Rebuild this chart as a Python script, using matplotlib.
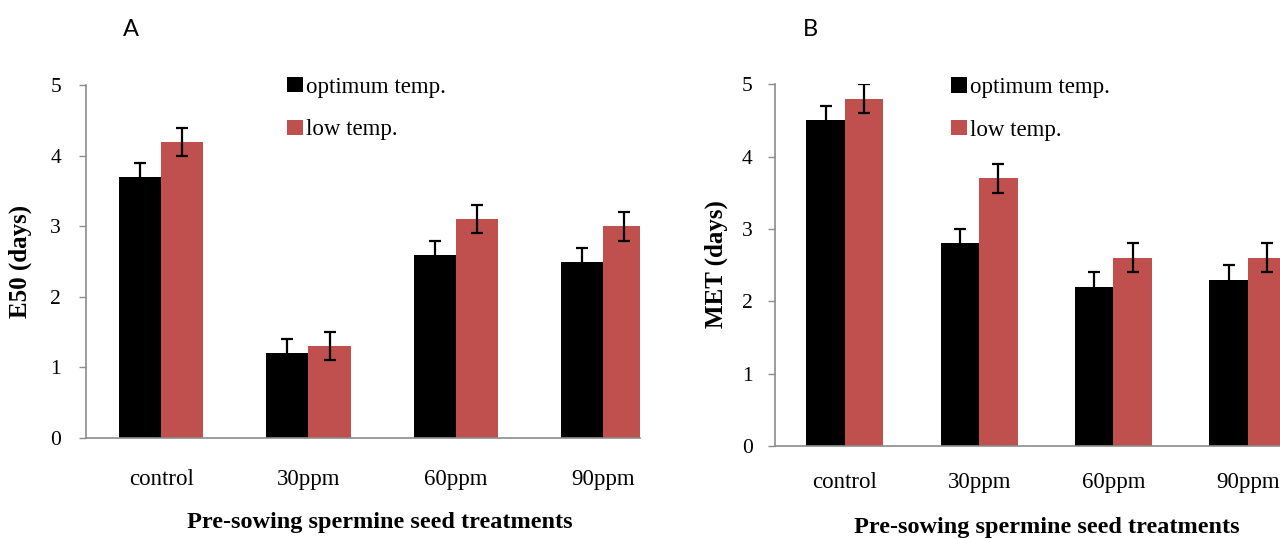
import matplotlib
matplotlib.use("Agg")
from matplotlib import pyplot as plt
import numpy as np

treatments = ["control", "30ppm", "60ppm", "90ppm"]
legend_names = ["optimum temp.", "low temp."]

e50_optimum = [3.7, 1.2, 2.6, 2.5]
e50_low = [4.2, 1.3, 3.1, 3.0]
e50_err_optimum = [0.2, 0.2, 0.2, 0.2]
e50_err_low = [0.2, 0.2, 0.2, 0.2]

met_optimum = [4.5, 2.8, 2.2, 2.3]
met_low = [4.8, 3.7, 2.6, 2.6]
met_err_optimum = [0.2, 0.2, 0.2, 0.2]
met_err_low = [0.2, 0.2, 0.2, 0.2]

plt.rcParams['font.family'] = ['Liberation Serif', 'DejaVu Serif']
RED = "#C0504D"
GREY = "#8c8c8c"
W = 0.286

fig = plt.figure(figsize=(12.8, 5.38), dpi=100)
W_PX, H_PX = 1280, 538


def make_axes(left, right, top, bottom):
    return fig.add_axes([left / W_PX, 1 - bottom / H_PX,
                         (right - left) / W_PX, (bottom - top) / H_PX])


def panel(ax, opt, low, err_opt, err_low, ylabel, xlim, ylab_xy, xlab_xy,
          tickpad, ytickpad, leg_xy):
    x = np.arange(len(treatments))
    ekw = dict(ecolor="black", elinewidth=1.6, capsize=4.5, capthick=1.6)
    b1 = ax.bar(x - W / 2, opt, W, color="black", yerr=err_opt, error_kw=ekw)
    b2 = ax.bar(x + W / 2, low, W, color=RED, yerr=err_low, error_kw=ekw)
    ax.set_xlim(*xlim)
    ax.set_ylim(0, 5)
    ax.set_yticks(range(6))
    ax.set_xticks(x, treatments)
    ax.tick_params(axis="x", length=0, pad=tickpad, labelsize=16.5)
    ax.tick_params(axis="y", length=5, width=1, color=GREY, pad=ytickpad, labelsize=15.5)
    for s in ["top", "right"]:
        ax.spines[s].set_visible(False)
    for s in ["left", "bottom"]:
        ax.spines[s].set_color(GREY)
        ax.spines[s].set_linewidth(1.2)
    ax.set_ylabel(ylabel, fontsize=18, fontweight="bold")
    ax.yaxis.set_label_coords(*ylab_xy)
    ax.yaxis.label.set_va("center")
    ax.set_xlabel("Pre-sowing spermine seed treatments", fontsize=17.5, fontweight="bold")
    ax.xaxis.set_label_coords(*xlab_xy)
    ax.xaxis.label.set_va("center")
    ax.legend([b1, b2], legend_names, loc="upper left", bbox_to_anchor=leg_xy,
              frameon=False, fontsize=16.5, handlelength=0.7, handleheight=0.65,
              handletextpad=0.12, labelspacing=0.95, borderpad=0, borderaxespad=0)


axA = make_axes(86, 640, 85.4, 438)
panel(axA, e50_optimum, e50_low, e50_err_optimum, e50_err_low, "E50 (days)",
      (-0.51, 3.25), (-0.119, 0.5), (0.531, -0.241), 22, 13, (0.363, 1.025))

axB = make_axes(775, 1280, 84.3, 446)
panel(axB, met_optimum, met_low, met_err_optimum, met_err_low, "MET (days)",
      (-0.52, 3.24), (-0.117, 0.503), (0.539, -0.224), 19, 11, (0.349, 1.02))

fig.text(131 / W_PX, 1 - 29 / H_PX, "A", fontsize=17, family="Lato", ha="center", va="center")
fig.text(810 / W_PX, 1 - 29 / H_PX, "B", fontsize=17, family="Lato", ha="center", va="center")

fig.savefig("out.png", dpi=100)
